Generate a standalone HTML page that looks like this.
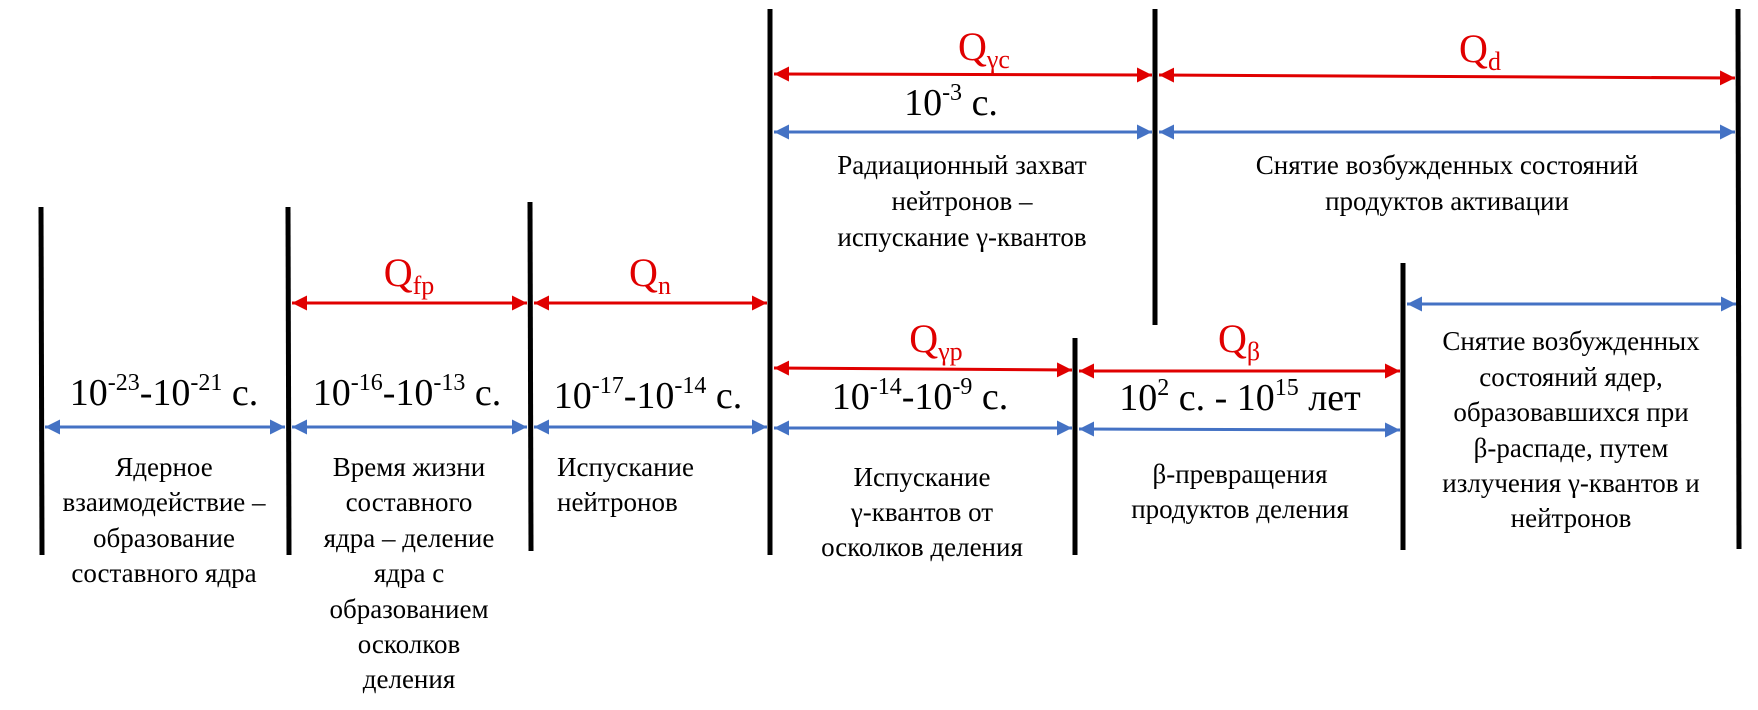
<!DOCTYPE html>
<html><head><meta charset="utf-8"><style>
html,body{margin:0;padding:0;background:#fff;}
svg{display:block;}
svg, svg text{font-family:"Liberation Serif","Times New Roman",Tinos,"DejaVu Serif",serif;}
.q{fill:#e00000;font-size:40px;}
.t{fill:#000;font-size:38px;}
.d{fill:#000;font-size:27px;}
</style></head><body>
<svg width="1758" height="710" viewBox="0 0 1758 710" xmlns="http://www.w3.org/2000/svg" font-family="Liberation Serif, Times New Roman, DejaVu Serif, serif">
<defs>
<marker id="r" viewBox="0 0 10 10" refX="10" refY="5" markerWidth="5" markerHeight="5" orient="auto-start-reverse"><path d="M0,0L10,5L0,10z" fill="#e00000"/></marker>
<marker id="b" viewBox="0 0 10 10" refX="10" refY="5" markerWidth="5" markerHeight="5" orient="auto-start-reverse"><path d="M0,0L10,5L0,10z" fill="#4472c4"/></marker>
</defs>
<g stroke="#000" stroke-width="5">
<line x1="41" y1="207" x2="42" y2="555"/>
<line x1="288" y1="207" x2="289" y2="555"/>
<line x1="530" y1="202" x2="531" y2="551"/>
<line x1="770" y1="9" x2="770" y2="555"/>
<line x1="1155" y1="9" x2="1155" y2="325"/>
<line x1="1075" y1="338" x2="1075" y2="555"/>
<line x1="1403" y1="263" x2="1403" y2="550"/>
<line x1="1738" y1="9" x2="1739" y2="549"/>
</g>
<g stroke="#e00000" stroke-width="3" marker-start="url(#r)" marker-end="url(#r)">
<line x1="292" y1="303" x2="527" y2="303"/>
<line x1="534" y1="303" x2="767" y2="303"/>
<line x1="774" y1="74" x2="1152" y2="75"/>
<line x1="1159" y1="75" x2="1735" y2="78"/>
<line x1="774" y1="368" x2="1072" y2="370"/>
<line x1="1079" y1="371" x2="1400" y2="371"/>
</g>
<g stroke="#4472c4" stroke-width="3" marker-start="url(#b)" marker-end="url(#b)">
<line x1="45" y1="427" x2="285" y2="427"/>
<line x1="292" y1="427" x2="527" y2="427"/>
<line x1="534" y1="427" x2="767" y2="427"/>
<line x1="774" y1="428" x2="1072" y2="428"/>
<line x1="1079" y1="429" x2="1400" y2="430"/>
<line x1="774" y1="132" x2="1152" y2="132"/>
<line x1="1159" y1="132" x2="1735" y2="132"/>
<line x1="1407" y1="304" x2="1736" y2="304"/>
</g>
<g text-anchor="middle">
<text class="q" x="409" y="286">Q<tspan font-size="26" dy="8">fp</tspan></text>
<text class="q" x="650" y="286">Q<tspan font-size="26" dy="8">n</tspan></text>
<text class="q" x="984" y="60">Q<tspan font-size="26" dy="8">γc</tspan></text>
<text class="q" x="1480" y="62">Q<tspan font-size="26" dy="8">d</tspan></text>
<text class="q" x="936" y="352">Q<tspan font-size="26" dy="8">γp</tspan></text>
<text class="q" x="1239" y="352">Q<tspan font-size="26" dy="8">β</tspan></text>

<text class="t" x="164" y="405">10<tspan font-size="24" dy="-15">-23</tspan><tspan dy="15">-10</tspan><tspan font-size="24" dy="-15">-21</tspan><tspan dy="15"> с.</tspan></text>
<text class="t" x="407" y="405">10<tspan font-size="24" dy="-15">-16</tspan><tspan dy="15">-10</tspan><tspan font-size="24" dy="-15">-13</tspan><tspan dy="15"> с.</tspan></text>
<text class="t" x="648" y="408">10<tspan font-size="24" dy="-15">-17</tspan><tspan dy="15">-10</tspan><tspan font-size="24" dy="-15">-14</tspan><tspan dy="15"> с.</tspan></text>
<text class="t" x="920" y="409">10<tspan font-size="24" dy="-15">-14</tspan><tspan dy="15">-10</tspan><tspan font-size="24" dy="-15">-9</tspan><tspan dy="15"> с.</tspan></text>
<text class="t" x="1240" y="410">10<tspan font-size="24" dy="-15">2</tspan><tspan dy="15"> с. - 10</tspan><tspan font-size="24" dy="-15">15</tspan><tspan dy="15"> лет</tspan></text>
<text class="t" x="951" y="115">10<tspan font-size="24" dy="-15">-3</tspan><tspan dy="15"> с.</tspan></text>

<text class="d" x="164" y="476">Ядерное</text>
<text class="d" x="164" y="511">взаимодействие –</text>
<text class="d" x="164" y="547">образование</text>
<text class="d" x="164" y="582">составного ядра</text>

<text class="d" x="409" y="476">Время жизни</text>
<text class="d" x="409" y="511">составного</text>
<text class="d" x="409" y="547">ядра – деление</text>
<text class="d" x="409" y="582">ядра с</text>
<text class="d" x="409" y="618">образованием</text>
<text class="d" x="409" y="653">осколков</text>
<text class="d" x="409" y="688">деления</text>

<text class="d" x="922" y="486">Испускание</text>
<text class="d" x="922" y="521">γ-квантов от</text>
<text class="d" x="922" y="556">осколков деления</text>

<text class="d" x="1240" y="483">β-превращения</text>
<text class="d" x="1240" y="518">продуктов деления</text>

<text class="d" x="1571" y="350">Снятие возбужденных</text>
<text class="d" x="1571" y="386">состояний ядер,</text>
<text class="d" x="1571" y="421">образовавшихся при</text>
<text class="d" x="1571" y="457">β-распаде, путем</text>
<text class="d" x="1571" y="492">излучения γ-квантов и</text>
<text class="d" x="1571" y="527">нейтронов</text>

<text class="d" x="962" y="174">Радиационный захват</text>
<text class="d" x="962" y="210">нейтронов –</text>
<text class="d" x="962" y="246">испускание γ-квантов</text>

<text class="d" x="1447" y="174">Снятие возбужденных состояний</text>
<text class="d" x="1447" y="210">продуктов активации</text>
</g>
<text class="d" x="557" y="476">Испускание</text>
<text class="d" x="557" y="511">нейтронов</text>
</svg>
</body></html>
